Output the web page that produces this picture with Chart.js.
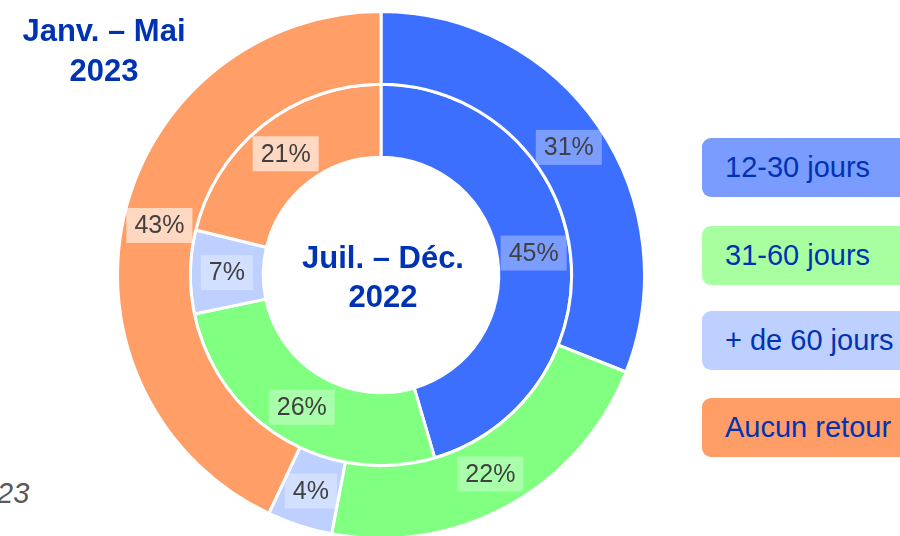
<!DOCTYPE html>
<html>
<head>
<meta charset="utf-8">
<script src="https://cdn.jsdelivr.net/npm/chart.js@4/dist/chart.umd.min.js"></script>
<style>
  html, body { margin: 0; padding: 0; width: 900px; height: 536px; overflow: hidden; background: #fff; font-family: "Liberation Sans", Arial, sans-serif; }
  #wrap { position: absolute; left: 115.5px; top: 10px; width: 530px; height: 530px; }
  .title { position: absolute; color: #0033b3; font-weight: bold; font-size: 31px; line-height: 38px; text-align: center; white-space: nowrap; }
  #topTitle { left: 4px; width: 200px; top: 11px; line-height: 40px; }
  #centerTitle { left: 283px; width: 200px; top: 238px; line-height: 39px; }
  #note { position: absolute; left: -3px; top: 477px; font-size: 29px; font-style: italic; color: #595959; }
  .legendBox { position: absolute; left: 702px; width: 240px; height: 59px; border-radius: 9px; color: #0033b3; font-size: 29px; line-height: 59px; padding-left: 23px; box-sizing: border-box; white-space: nowrap; }
</style>
</head>
<body>
<div id="wrap"><canvas id="chart"></canvas></div>
<div id="topTitle" class="title">Janv. – Mai<br>2023</div>
<div id="centerTitle" class="title">Juil. – Déc.<br>2022</div>
<div id="note">23</div>
<div id="legend"></div>
<script>
const categories = ['12-30 jours', '31-60 jours', '+ de 60 jours', 'Aucun retour'];
const values2023 = [31, 22, 4, 43];
const values2022 = [45, 26, 7, 21];
const sliceColors = ['#3d6fff', '#80ff80', '#bdd0ff', '#ff9e66'];
const legendColors = ['#7b9cff', '#a8ffa0', '#bdd0ff', '#ff9d66'];
const labelBg = ['rgba(255,255,255,0.32)', 'rgba(255,255,255,0.32)', 'rgba(255,255,255,0.32)', 'rgba(255,255,255,0.6)'];
const legendTops = [138, 226, 311, 398];

// legend boxes on the right
const legend = document.getElementById('legend');
categories.forEach((c, i) => {
  const d = document.createElement('div');
  d.className = 'legendBox';
  d.style.top = legendTops[i] + 'px';
  d.style.background = legendColors[i];
  d.textContent = c;
  legend.appendChild(d);
});

// percent labels in the middle of each slice
const pctLabels = {
  id: 'pctLabels',
  afterDatasetsDraw(chart) {
    const ctx = chart.ctx;
    ctx.save();
    ctx.font = '25px "Liberation Sans", Arial, sans-serif';
    ctx.textAlign = 'center';
    ctx.textBaseline = 'middle';
    chart.data.datasets.forEach((ds, di) => {
      chart.getDatasetMeta(di).data.forEach((arc, i) => {
        const p = arc.tooltipPosition();
        const txt = ds.data[i] + '%';
        const w = ctx.measureText(txt).width + 16;
        const h = 35;
        ctx.fillStyle = labelBg[i];
        ctx.fillRect(p.x - w / 2, p.y - h / 2, w, h);
        ctx.fillStyle = '#404040';
        ctx.fillText(txt, p.x, p.y + 1);
      });
    });
    ctx.restore();
  }
};

new Chart(document.getElementById('chart'), {
  type: 'doughnut',
  data: {
    labels: categories,
    datasets: [
      { label: 'Janv. – Mai 2023', data: values2023, backgroundColor: sliceColors, borderColor: '#fff', borderWidth: 3 },
      { label: 'Juil. – Déc. 2022', data: values2022, backgroundColor: sliceColors, borderColor: '#fff', borderWidth: 3 }
    ]
  },
  options: {
    responsive: true,
    maintainAspectRatio: false,
    animation: false,
    cutout: '44.7%',
    layout: { padding: 0 },
    plugins: { legend: { display: false }, tooltip: { enabled: false } }
  },
  plugins: [pctLabels]
});
</script>
</body>
</html>
